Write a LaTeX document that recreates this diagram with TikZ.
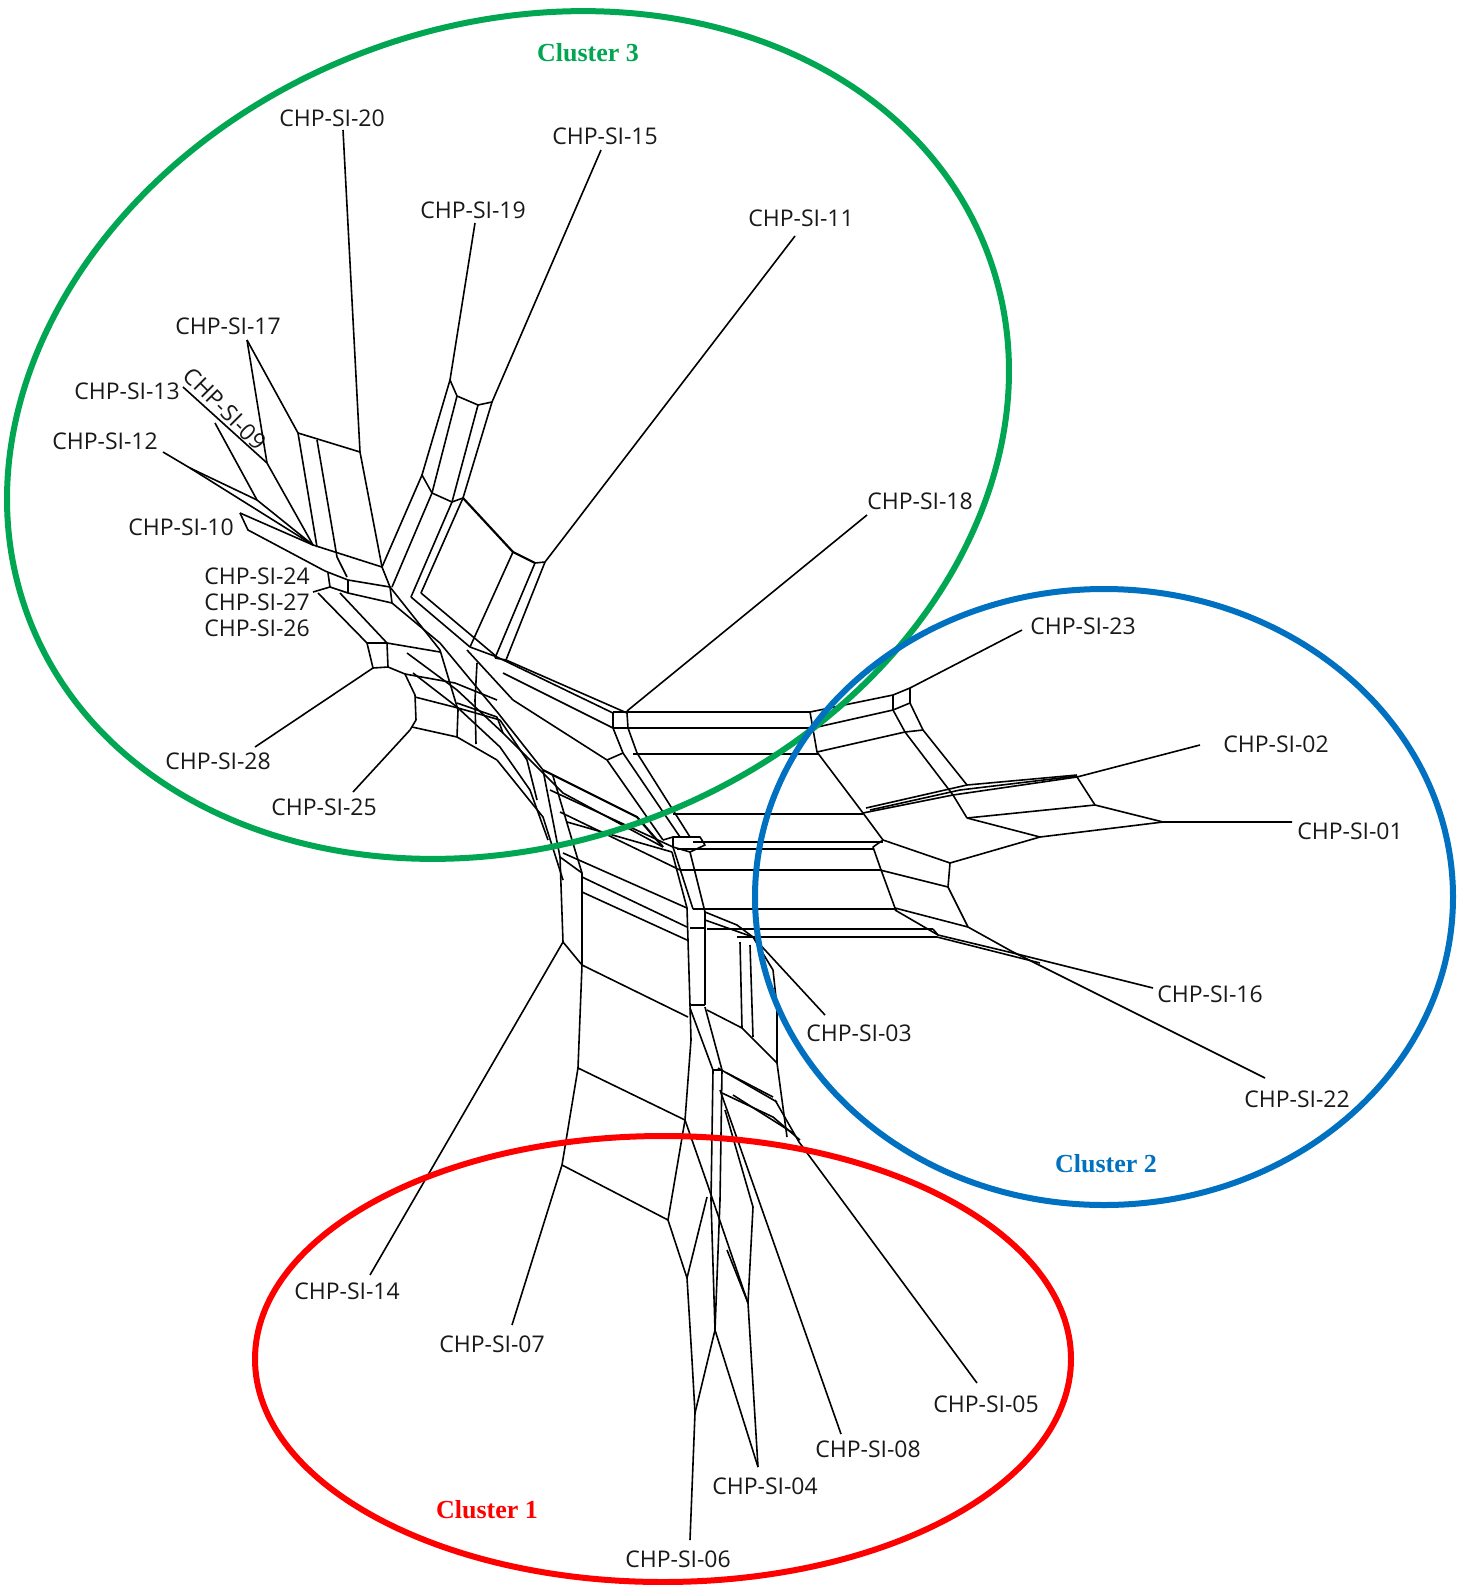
\documentclass[tikz,border=0pt]{standalone}
\usepackage{fontspec}
\newfontfamily\labfont{Open Sans}
\newfontfamily\clufont{Liberation Serif}
\definecolor{cgreen}{HTML}{00A651}
\definecolor{cblue}{HTML}{0070C0}
\definecolor{cred}{HTML}{FF0000}
\begin{document}
\begin{tikzpicture}[x=1pt,y=-1pt,
  net/.style={line width=1.6pt,line join=round,black},
  ring/.style={line width=6pt},
  lab/.style={font=\labfont\fontsize{23}{25}\selectfont,text=black!90,inner sep=0pt},
  clu/.style={font=\clufont\bfseries\fontsize{26}{28}\selectfont,inner sep=0pt}]
\useasboundingbox (0,0) rectangle (1462,1585);
\fill[white] (0,0) rectangle (1462,1585);

% ---------- labels ----------
\node[lab] (l20) at (332,118) {CHP-SI-20};
\node[lab] (l15) at (605,136) {CHP-SI-15};
\node[lab] (l19) at (473,210) {CHP-SI-19};
\node[lab] (l11) at (801,218) {CHP-SI-11};
\node[lab] (l17) at (228,326) {CHP-SI-17};
\node[lab] (l13) at (127,391) {CHP-SI-13};
\node[lab,rotate=-45] (l09) at (225,409) {CHP-SI-09};
\node[lab] (l12) at (105,441) {CHP-SI-12};
\node[lab] (l10) at (181,527) {CHP-SI-10};
\node[lab] (l18) at (920,501) {CHP-SI-18};
\node[lab] (l24) at (257,576) {CHP-SI-24};
\node[lab] (l27) at (257,602) {CHP-SI-27};
\node[lab] (l26) at (257,628) {CHP-SI-26};
\node[lab] (l28) at (218,761) {CHP-SI-28};
\node[lab] (l25) at (324,807) {CHP-SI-25};
\node[lab] (l23) at (1083,626) {CHP-SI-23};
\node[lab] (l02) at (1276,744) {CHP-SI-02};
\node[lab] (l01) at (1350,831) {CHP-SI-01};
\node[lab] (l16) at (1210,994) {CHP-SI-16};
\node[lab] (l03) at (859,1033) {CHP-SI-03};
\node[lab] (l22) at (1297,1099) {CHP-SI-22};
\node[lab] (l14) at (347,1291) {CHP-SI-14};
\node[lab] (l07) at (492,1344) {CHP-SI-07};
\node[lab] (l05) at (986,1404) {CHP-SI-05};
\node[lab] (l08) at (868,1449) {CHP-SI-08};
\node[lab] (l04) at (765,1486) {CHP-SI-04};
\node[lab] (l06) at (678,1559) {CHP-SI-06};

\node[clu,text=cgreen] (c3) at (588,53) {Cluster 3};
\node[clu,text=cblue] (c2) at (1106,1164) {Cluster 2};
\node[clu,text=cred] (c1) at (487,1510) {Cluster 1};

% ---------- network: upper-left ----------
\draw[net] (343,130) -- (360,452);
\draw[net] (247,340) -- (298,433);
\draw[net] (247,340) -- (267,463);
\draw[net] (183,387) -- (267,463);
\draw[net] (215,423) -- (257,500);
\draw[net] (163,452) -- (190,468) -- (313,545);
\draw[net] (190,468) -- (257,500) -- (313,545);
\draw[net] (267,463) -- (313,545);
\draw[net] (240,513) -- (248,530) -- (325,571);
\draw[net] (240,513) -- (313,545);
\draw[net] (298,433) -- (360,452);
\draw[net] (298,433) -- (317,547);
\draw[net] (317,440) -- (337,557) -- (347,577);
\draw[net] (360,452) -- (382,567);
\draw[net] (313,545) -- (382,567);
\draw[net] (325,571) -- (348,580) -- (390,587);
\draw[net] (313,592) -- (330,587) -- (348,593) -- (392,603);
\draw[net] (328,573) -- (330,587);
\draw[net] (348,580) -- (348,593);
\draw[net] (382,567) -- (390,587) -- (392,603);
\draw[net] (318,593) -- (367,643);
\draw[net] (340,593) -- (387,643);
\draw[net] (367,643) -- (387,643);
\draw[net] (367,643) -- (373,668) -- (388,667) -- (387,643);
\draw[net] (373,668) -- (255,747);
\draw[net] (388,667) -- (405,674) -- (415,695) -- (416,720) -- (410,730);
\draw[net] (410,730) -- (353,792);
\draw[net] (387,643) -- (440,652);
\draw[net] (390,587) -- (440,650);
\draw[net] (392,603) -- (440,643);
\draw[net] (411,597) -- (470,647);
\draw[net] (421,593) -- (497,657);
\draw[net] (405,674) -- (455,683) -- (497,700);
\draw[net] (415,697) -- (458,708) -- (500,720);
\draw[net] (412,727) -- (457,737) -- (497,760);
\draw[net] (440,650) -- (458,710) -- (457,737);
\draw[net] (477,663) -- (475,700) -- (476,744);

% ---------- 19 / 15 / 11 ----------
\draw[net] (475,223) -- (450,380);
\draw[net] (601,150) -- (492,402);
\draw[net] (450,380) -- (457,396) -- (478,405) -- (492,402);
\draw[net] (450,380) -- (422,475);
\draw[net] (457,396) -- (432,493);
\draw[net] (478,405) -- (452,502);
\draw[net] (492,402) -- (463,498);
\draw[net] (422,475) -- (432,493) -- (452,502) -- (463,498);
\draw[net] (422,475) -- (382,567);
\draw[net] (432,493) -- (392,587);
\draw[net] (452,502) -- (411,597);
\draw[net] (463,498) -- (421,593);
\draw[net,line width=2.2pt] (463,498) -- (513,552) -- (535,563);
\draw[net] (535,563) -- (545,562) -- (795,236);
\draw[net] (513,552) -- (470,647);
\draw[net] (535,563) -- (495,658);
\draw[net] (545,562) -- (506,660);
\draw[net] (470,647) -- (497,657);
\draw[net] (495,658) -- (506,660);

% ---------- centre ----------
\draw[net] (497,657) -- (613,713);
\draw[net] (506,660) -- (627,713);
\draw[net] (503,673) -- (613,728);
\draw[net] (613,713) -- (613,728) -- (623,753) -- (680,837);
\draw[net] (627,713) -- (628,728) -- (637,753) -- (690,837);
\draw[net] (513,700) -- (607,760) -- (663,840);
\draw[net] (607,760) -- (623,753);
\draw[net] (440,643) -- (498,713) -- (543,770);
\draw[net] (467,650) -- (513,700);
\draw[net] (497,717) -- (503,733) -- (563,793) -- (663,847);
\draw[net] (457,703) -- (497,717);
\draw[net] (497,760) -- (543,817) -- (563,880);
\draw[net] (413,673) -- (457,707) -- (500,747) -- (530,790) -- (548,840);
\draw[net] (407,653) -- (457,690) -- (503,733);
\draw[net] (500,720) -- (527,760) -- (537,800);
\draw[net,line width=2.2pt] (543,770) -- (637,817) -- (663,847);
\draw[net] (550,790) -- (673,847);
\draw[net] (560,812) -- (680,870);
\draw[net] (673,837) -- (700,837) -- (705,845) -- (690,852) -- (673,847) -- cycle;
\draw[net] (663,840) -- (673,837);

% ---------- horizontal band ----------
\draw[net] (613,712) -- (810,712);
\draw[net] (613,728) -- (813,728);
\draw[net] (633,754) -- (818,754);
\draw[net] (673,814) -- (863,814);
\draw[net] (693,842) -- (883,842);
\draw[net] (677,849) -- (873,849);
\draw[net] (680,870) -- (880,870);
\draw[net] (693,909) -- (897,909);
\draw[net] (707,929) -- (933,929);
\draw[net] (737,937) -- (937,937);
\draw[net] (627,711) -- (867,515);

% ---------- right cluster ----------
\draw[net] (810,712) -- (893,695) -- (910,688) -- (1022,630);
\draw[net] (893,695) -- (893,710);
\draw[net] (910,688) -- (910,703);
\draw[net] (813,728) -- (893,710) -- (910,703);
\draw[net] (817,752) -- (905,732) -- (923,730);
\draw[net] (893,710) -- (905,732) -- (953,795) -- (967,818);
\draw[net] (910,703) -- (923,730) -- (967,785);
\draw[net] (810,712) -- (817,752) -- (863,813) -- (883,840) -- (873,847) -- (880,867) -- (895,908);
\draw[net] (863,813) -- (953,795) -- (1077,777);
\draw[net] (866,808) -- (967,785) -- (1077,775);
\draw[net] (870,810) -- (960,790) -- (1077,776);
\draw[net] (1077,777) -- (1200,745);
\draw[net] (1077,777) -- (1095,805) -- (1163,822) -- (1292,822);
\draw[net] (967,818) -- (1095,805);
\draw[net] (967,818) -- (1040,837) -- (1163,822);
\draw[net] (883,840) -- (950,863) -- (1040,837);
\draw[net] (950,863) -- (948,887) -- (968,927);
\draw[net] (880,870) -- (948,887);
\draw[net] (895,908) -- (968,927);
\draw[net] (895,910) -- (938,935) -- (1013,953) -- (1153,988);
\draw[net] (968,927) -- (1013,952) -- (1265,1078);
\draw[net] (933,929) -- (938,935);
\draw[net] (937,937) -- (1040,963);

% ---------- lower-middle ----------
\draw[net] (543,770) -- (560,857) -- (563,942);
\draw[net] (553,776) -- (575,850) -- (582,873) -- (582,965);
\draw[net] (560,857) -- (582,873);
\draw[net] (563,942) -- (582,965);
\draw[net] (582,965) -- (578,1068) -- (562,1165) -- (512,1325);
\draw[net] (563,942) -- (370,1275);
\draw[net] (582,965) -- (688,1017);
\draw[net] (578,1068) -- (685,1120);
\draw[net] (562,1165) -- (668,1220);
\draw[net] (563,853) -- (687,908);
\draw[net] (582,877) -- (687,927);
\draw[net] (582,892) -- (687,940);
\draw[net] (567,822) -- (672,852);
\draw[net] (672,852) -- (687,908);
\draw[net] (690,852) -- (705,912);
\draw[net] (673,847) -- (693,909);
\draw[net] (687,908) -- (690,1005) -- (691,1040) -- (685,1120) -- (668,1220) -- (687,1278);
\draw[net] (705,912) -- (705,1005);
\draw[net] (690,928) -- (705,928);
\draw[net] (690,1005) -- (705,1005);
\draw[net] (690,1008) -- (713,1070) -- (711,1200) -- (715,1330);
\draw[net] (705,1007) -- (722,1070) -- (720,1200) -- (715,1330);
\draw[net] (713,1070) -- (722,1070);
\draw[net] (705,920) -- (753,937);
\draw[net] (705,912) -- (737,925) -- (753,937);
\draw[net] (740,942) -- (742,1028);
\draw[net] (750,945) -- (753,1037);
\draw[net] (707,1010) -- (742,1028) -- (777,1063);
\draw[net] (753,937) -- (773,970) -- (777,1007) -- (777,1063) -- (787,1137);
\draw[net] (718,1068) -- (777,1102);
\draw[net] (733,1095) -- (793,1133);
\draw[net] (753,937) -- (825,1015);

% ---------- bottom ----------
\draw[net] (727,1073) -- (773,1097);
\draw[net] (722,1093) -- (773,1117) -- (800,1140);
\draw[net] (775,1100) -- (799,1142) -- (977,1383);
\draw[net] (720,1090) -- (841,1434);
\draw[net] (685,1120) -- (707,1183) -- (748,1303);
\draw[net] (725,1110) -- (753,1207) -- (748,1303);
\draw[net] (707,1197) -- (687,1278);
\draw[net] (687,1278) -- (692,1360) -- (695,1413);
\draw[net] (715,1330) -- (695,1413);
\draw[net] (695,1413) -- (690,1540);
\draw[net] (715,1330) -- (758,1467);
\draw[net] (748,1303) -- (758,1467);
\draw[net] (727,1250) -- (748,1303);

% ---------- cluster ellipses ----------
\draw[ring,cgreen,rotate around={21:(508,435)}] (508,435) ellipse [x radius=513, y radius=409];
\draw[ring,cblue] (1104,897) ellipse [x radius=349, y radius=308];
\draw[ring,cred] (663,1359) ellipse [x radius=408, y radius=223];
\end{tikzpicture}
\end{document}
